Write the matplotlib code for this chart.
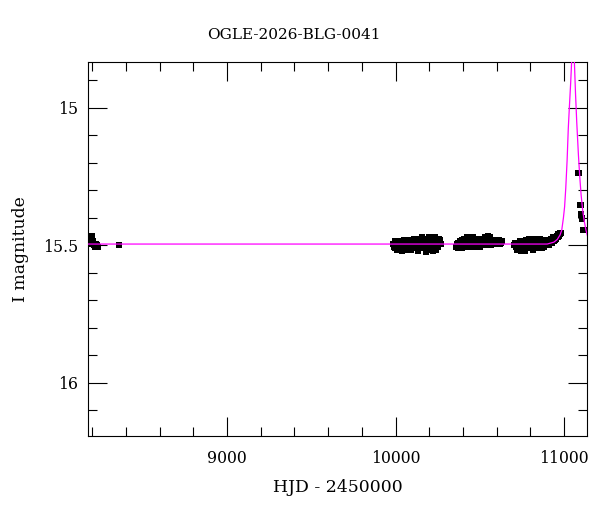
from matplotlib import pyplot as plt
from matplotlib.ticker import MultipleLocator

# OGLE photometry, HJD - 2450000 and I magnitude
hjd = [8180, 8184, 8188, 8192, 8196, 8200, 8205, 8210, 8215, 8220, 8226, 8232, 8359,
       9985, 9990, 9994, 9998, 10002, 10006, 10010, 10014, 10018, 10022, 10026, 10030,
       10034, 10038, 10042, 10046, 10050, 10054, 10058, 10062, 10066, 10070, 10074, 10078,
       10082, 10086, 10090, 10094, 10098, 10102, 10106, 10110, 10114, 10118, 10122, 10126,
       10130, 10134, 10138, 10142, 10146, 10150, 10154, 10158, 10162, 10166, 10170, 10174,
       10178, 10182, 10186, 10190, 10194, 10198, 10202, 10206, 10210, 10214, 10218, 10222,
       10226, 10230, 10234, 10238, 10242, 10246, 10250, 10254, 10258, 10262, 10266, 10270,
       10360, 10364, 10368, 10372, 10376, 10380, 10384, 10388, 10392, 10396, 10400, 10404,
       10408, 10412, 10416, 10420, 10424, 10428, 10432, 10436, 10440, 10444, 10448, 10452,
       10456, 10460, 10464, 10468, 10472, 10476, 10480, 10484, 10488, 10492, 10496, 10500,
       10504, 10508, 10512, 10516, 10520, 10524, 10528, 10532, 10536, 10540, 10544, 10548,
       10552, 10556, 10560, 10564, 10568, 10572, 10576, 10580, 10585, 10590, 10595, 10600,
       10605, 10610, 10615, 10620, 10625, 10630,
       10705, 10710, 10714, 10718, 10722, 10726, 10730, 10734, 10738, 10742, 10746, 10750,
       10754, 10758, 10762, 10766, 10770, 10774, 10778, 10782, 10786, 10790, 10794, 10798,
       10802, 10806, 10810, 10814, 10818, 10822, 10826, 10830, 10834, 10838, 10842, 10846,
       10850, 10854, 10858, 10862, 10866, 10870, 10874, 10878, 10882, 10886, 10890, 10894,
       10898, 10902, 10906, 10910, 10914, 10918, 10922, 10926, 10930, 10934, 10938, 10942,
       10946, 10950, 10954, 10958, 10962, 10966, 10970, 10974, 10978, 10982,
       11083, 11088, 11093, 11098, 11100, 11103, 11105, 11108, 11112, 11117]

imag = [15.49, 15.48, 15.495, 15.47, 15.465, 15.49, 15.485, 15.50, 15.505, 15.495, 15.50, 15.505, 15.50,
        15.495, 15.505, 15.485, 15.51, 15.49, 15.50, 15.515, 15.495, 15.485, 15.505, 15.49, 15.51,
        15.50, 15.52, 15.49, 15.505, 15.48, 15.50, 15.515, 15.49, 15.505, 15.485, 15.50, 15.51,
        15.495, 15.48, 15.50, 15.515, 15.49, 15.505, 15.485, 15.475, 15.50, 15.51, 15.49, 15.48,
        15.505, 15.52, 15.49, 15.475, 15.50, 15.51, 15.485, 15.47, 15.495, 15.505, 15.48, 15.49,
        15.525, 15.475, 15.50, 15.515, 15.485, 15.47, 15.495, 15.505, 15.48, 15.49, 15.51, 15.52,
        15.50, 15.485, 15.47, 15.49, 15.515, 15.48, 15.495, 15.505, 15.475, 15.49, 15.48, 15.495,
        15.505, 15.495, 15.51, 15.49, 15.50, 15.485, 15.505, 15.495, 15.51, 15.48, 15.50, 15.49,
        15.475, 15.505, 15.485, 15.495, 15.47, 15.50, 15.48, 15.49, 15.505, 15.475, 15.495, 15.485,
        15.50, 15.47, 15.49, 15.48, 15.505, 15.495, 15.475, 15.49, 15.50, 15.48, 15.495, 15.505,
        15.485, 15.475, 15.49, 15.50, 15.48, 15.495, 15.47, 15.485, 15.50, 15.49, 15.475, 15.465,
        15.48, 15.495, 15.47, 15.485, 15.50, 15.49, 15.48, 15.495, 15.485, 15.49, 15.48, 15.495,
        15.485, 15.49, 15.48, 15.495, 15.49, 15.485,
        15.50, 15.49, 15.505, 15.495, 15.515, 15.49, 15.50, 15.51, 15.485, 15.505, 15.52, 15.495,
        15.50, 15.515, 15.49, 15.505, 15.52, 15.48, 15.50, 15.51, 15.49, 15.505, 15.475, 15.495,
        15.51, 15.485, 15.50, 15.515, 15.49, 15.475, 15.505, 15.495, 15.51, 15.48, 15.50, 15.49,
        15.505, 15.485, 15.475, 15.50, 15.49, 15.51, 15.48, 15.495, 15.505, 15.485, 15.50, 15.49,
        15.48, 15.495, 15.485, 15.50, 15.48, 15.49, 15.475, 15.49, 15.48, 15.47, 15.485, 15.475,
        15.48, 15.47, 15.475, 15.465, 15.47, 15.46, 15.465, 15.455, 15.46, 15.455,
        15.237, 15.237, 15.353, 15.353, 15.385, 15.39, 15.40, 15.405, 15.444, 15.444]

# model light curve
model_hjd = [8175, 10900, 10940, 10960, 10976, 10986, 10996, 11003, 11010, 11018, 11025,
             11032, 11039, 11045, 11053, 11061, 11068, 11075, 11085, 11093, 11101, 11110,
             11120, 11130, 11140]
model_mag = [15.495, 15.495, 15.488, 15.478, 15.462, 15.445, 15.40, 15.36, 15.292, 15.19, 15.074,
             14.99, 14.91, 14.83, 14.55, 14.83, 14.95, 15.05, 15.17, 15.25, 15.316, 15.37,
             15.413, 15.445, 15.468]

plt.rcParams['font.family'] = ['DejaVu Serif']

fig = plt.figure(figsize=(6.0, 5.12), dpi=100)
ax = fig.add_axes([88 / 600, 1 - 436 / 512, 499 / 600, 374 / 512])

ax.plot(hjd, imag, 's', color='black', markersize=3.9, markeredgewidth=0, zorder=2)
ax.plot(model_hjd, model_mag, '-', color='#ff00ff', linewidth=0.9, zorder=3)

ax.set_xlim(8175, 11136)
ax.set_ylim(16.193, 14.833)

ax.xaxis.set_major_locator(MultipleLocator(1000))
ax.xaxis.set_minor_locator(MultipleLocator(200))
ax.yaxis.set_major_locator(MultipleLocator(0.5))
ax.yaxis.set_minor_locator(MultipleLocator(0.1))
ax.set_yticks([15, 15.5, 16])
ax.set_yticklabels(['15', '15.5', '16'])

ax.tick_params(which='both', direction='in', top=True, right=True, width=0.8, labelsize=11.3)
ax.tick_params(which='major', length=13.5)
ax.tick_params(which='minor', length=6.7)
ax.tick_params(axis='x', which='major', pad=10)
ax.tick_params(axis='y', which='major', pad=7)
for s in ax.spines.values():
    s.set_linewidth(0.8)

ax.set_xlabel('HJD - 2450000', fontsize=12.4, labelpad=9)
ax.set_ylabel('I magnitude', fontsize=12.4, labelpad=10)
fig.text(0.489, 0.932, 'OGLE-2026-BLG-0041', fontsize=11, ha='center', va='center')

fig.savefig('out.png', dpi=100)
